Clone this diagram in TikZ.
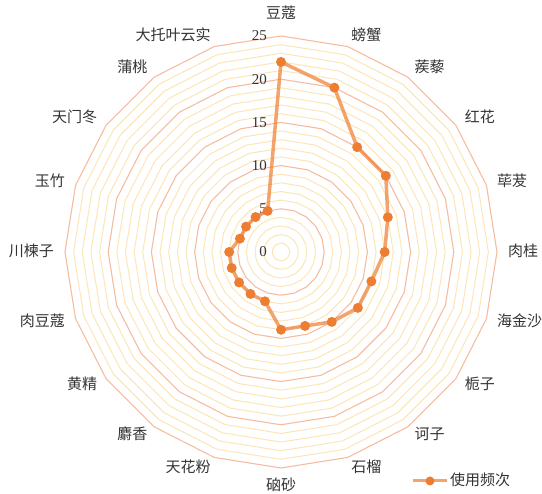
\documentclass[tikz,border=0pt]{standalone}
\usepackage{fontspec}
\usetikzlibrary{calc}
\setmainfont{Liberation Serif}
\newfontfamily\cjk{Noto Sans CJK SC}
\definecolor{freqorange}{HTML}{ED7D31}
\definecolor{ringmajor}{HTML}{F6BC9F}
\definecolor{ringminor}{HTML}{FCE5B6}
\definecolor{labelgray}{HTML}{333333}
\newcommand{\unitr}{8.64}

\begin{document}
\begin{tikzpicture}[x=1pt, y=1pt,
  minorring/.style={draw=ringminor, line width=1pt},
  majorring/.style={draw=ringmajor, line width=1.1pt},
  axisname/.style={font=\cjk\fontsize{15}{18}\selectfont, text=labelgray, inner sep=0pt, yshift=1.5pt},
  ticklabel/.style={font=\fontsize{15}{18}\selectfont, text=labelgray, anchor=east, inner sep=0pt},
  dataline/.style={draw=freqorange, draw opacity=0.7, line width=3.5pt, line join=round},
  datadot/.style={circle, fill=freqorange, minimum size=10pt, inner sep=0pt}]

  \useasboundingbox (0,0) rectangle (542,494);

  \begin{scope}[shift={(281,242)}]

  % Grid rings
  \foreach \k in {1,2,3,4,6,7,8,9,11,12,13,14,16,17,18,19,21,22,23,24}
    \draw[minorring] (90:\k*\unitr) \foreach \a in {72,54,...,-252} {-- (\a:\k*\unitr)} -- cycle;
  \foreach \k in {5,10,...,25}
    \draw[majorring] (90:\k*\unitr) \foreach \a in {72,54,...,-252} {-- (\a:\k*\unitr)} -- cycle;

  % Tick labels
  \node[ticklabel] (t0) at (-14,0) {0};
  \node[ticklabel] (t5) at (-14,5*\unitr) {5};
  \node[ticklabel] (t10) at (-14,10*\unitr) {10};
  \node[ticklabel] (t15) at (-14,15*\unitr) {15};
  \node[ticklabel] (t20) at (-14,20*\unitr) {20};
  \node[ticklabel] (t25) at (-14,25*\unitr) {25};

  % Axis names
  \node[axisname, anchor=south] (n1) at (90:231) {豆蔻};
  \node[axisname, anchor=west] (n2) at (72:227) {螃蟹};
  \node[axisname, anchor=west] (n3) at (54:227) {蒺藜};
  \node[axisname, anchor=west] (n4) at (36:227) {红花};
  \node[axisname, anchor=west] (n5) at (18:227) {荜茇};
  \node[axisname, anchor=west] (n6) at (0:227) {肉桂};
  \node[axisname, anchor=west] (n7) at (-18:227) {海金沙};
  \node[axisname, anchor=west] (n8) at (-36:227) {栀子};
  \node[axisname, anchor=west] (n9) at (-54:227) {诃子};
  \node[axisname, anchor=west] (n10) at (-72:227) {石榴};
  \node[axisname, anchor=north] (n11) at (-90:227) {硇砂};
  \node[axisname, anchor=east] (n12) at (-108:227) {天花粉};
  \node[axisname, anchor=east] (n13) at (-126:227) {麝香};
  \node[axisname, anchor=east] (n14) at (-144:227) {黄精};
  \node[axisname, anchor=east] (n15) at (-162:227) {肉豆蔻};
  \node[axisname, anchor=east] (n16) at (180:227) {川楝子};
  \node[axisname, anchor=east] (n17) at (162:227) {玉竹};
  \node[axisname, anchor=east] (n18) at (144:227) {天门冬};
  \node[axisname, anchor=east] (n19) at (126:227) {蒲桃};
  \node[axisname, anchor=east] (n20) at (108:227) {大托叶云实};

  % Data values
  \coordinate (d1) at (90:22*\unitr);
  \coordinate (d2) at (72:20*\unitr);
  \coordinate (d3) at (54:15*\unitr);
  \coordinate (d4) at (36:15*\unitr);
  \coordinate (d5) at (18:13*\unitr);
  \coordinate (d6) at (0:12*\unitr);
  \coordinate (d7) at (-18:11*\unitr);
  \coordinate (d8) at (-36:11*\unitr);
  \coordinate (d9) at (-54:10*\unitr);
  \coordinate (d10) at (-72:9*\unitr);
  \coordinate (d11) at (-90:9*\unitr);
  \coordinate (d12) at (-108:6*\unitr);
  \coordinate (d13) at (-126:6*\unitr);
  \coordinate (d14) at (-144:6*\unitr);
  \coordinate (d15) at (-162:6*\unitr);
  \coordinate (d16) at (180:6*\unitr);
  \coordinate (d17) at (162:5*\unitr);
  \coordinate (d18) at (144:5*\unitr);
  \coordinate (d19) at (126:5*\unitr);
  \coordinate (d20) at (108:5*\unitr);

  \draw[dataline] (d1) -- (d2) -- (d3) -- (d4) -- (d5) -- (d6) -- (d7) -- (d8) -- (d9) -- (d10)
    -- (d11) -- (d12) -- (d13) -- (d14) -- (d15) -- (d16) -- (d17) -- (d18) -- (d19) -- (d20) -- cycle;

  \foreach \i in {1,...,20}
    \node[datadot] (p\i) at (d\i) {};

  \end{scope}

  % Legend
  \coordinate (lgA) at (413,13);
  \coordinate (lgB) at (447,13);
  \draw[dataline, line width=3pt] (lgA) -- (lgB);
  \node[datadot, minimum size=9pt] (lgdot) at ($(lgA)!0.5!(lgB)$) {};
  \node[axisname, anchor=west, yshift=0pt] (lgtext) at (450,13) {使用频次};

\end{tikzpicture}
\end{document}
